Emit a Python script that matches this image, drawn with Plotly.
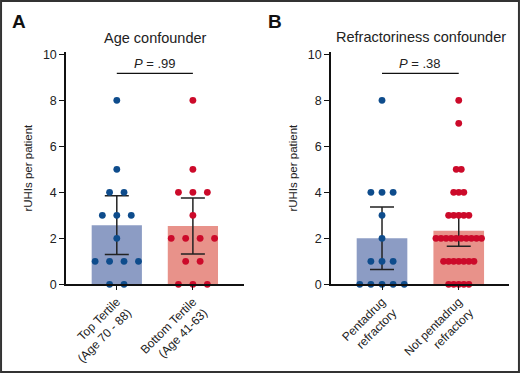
import plotly.graph_objects as go
import numpy as np

# ---- data ----
values_a = [0, 1, 2, 3, 4, 5, 8]
counts_a_top = [2, 4, 1, 3, 2, 1, 1]
counts_a_bottom = [3, 2, 4, 1, 3, 1, 1]
cats_a = ["Top Tertile<br>(Age 70 - 88)", "Bottom Tertile<br>(Age 41-63)"]

values_b = [0, 1, 2, 3, 4, 5, 7, 8]
counts_b_penta = [5, 3, 1, 1, 3, 0, 0, 1]
counts_b_not = [5, 7, 10, 5, 3, 2, 1, 1]
cats_b = ["Pentadrug<br>refractory", "Not pentadrug<br>refractory"]

p_a = "<i>P</i> = .99"
p_b = "<i>P</i> = .38"
titles = ["Age confounder", "Refractoriness confounder"]
t_crit = {13: 2.160, 14: 2.145, 33: 2.035}

BLUE_DOT = "#0e4c8c"
RED_DOT = "#cc0a2a"
BLUE_BAR = "#8c9cc4"
RED_BAR = "#e8928a"
FONT = "Liberation Sans, Arial, sans-serif"


def expand(values, counts):
    out = []
    for v, c in zip(values, counts):
        out += [v] * c
    return np.array(out, dtype=float)


def swarm(values, counts, center, spacing):
    xs, ys = [], []
    for v, c in zip(values, counts):
        for i in range(c):
            xs.append(center + (i - (c - 1) / 2) * spacing)
            ys.append(v)
    return xs, ys


fig = go.Figure()

panels = [
    (values_a, [counts_a_top, counts_a_bottom], cats_a, [0.19, 0.19], "x", "y"),
    (values_b, [counts_b_penta, counts_b_not], cats_b, [0.145, 0.066], "x2", "y2"),
]

for values, counts_list, cats, spacings, xa, ya in panels:
    means, errs = [], []
    for cnts in counts_list:
        d = expand(values, cnts)
        n = len(d)
        m = d.mean()
        sem = d.std(ddof=1) / np.sqrt(n)
        means.append(m)
        errs.append(t_crit.get(n - 1, 2.0) * sem)
    fig.add_trace(go.Bar(
        x=[0, 1], y=means, width=0.66,
        marker=dict(color=[BLUE_BAR, RED_BAR], line=dict(width=0)),
        xaxis=xa, yaxis=ya, showlegend=False,
    ))
    fig.add_trace(go.Scatter(
        x=[0, 1], y=means, mode="markers",
        marker=dict(size=1, color="rgba(0,0,0,0)"),
        error_y=dict(type="data", array=errs, visible=True, color="#222222",
                     thickness=1.5, width=12),
        xaxis=xa, yaxis=ya, showlegend=False,
    ))
    for k, (cnts, col) in enumerate(zip(counts_list, [BLUE_DOT, RED_DOT])):
        xs, ys = swarm(values, cnts, k, spacings[k])
        fig.add_trace(go.Scatter(
            x=xs, y=ys, mode="markers",
            marker=dict(size=6.8, color=col, line=dict(width=0)),
            xaxis=xa, yaxis=ya, showlegend=False, cliponaxis=False,
        ))

line_common = dict(showgrid=False, zeroline=False, showline=True, automargin=False,
                   linecolor="#111111", linewidth=1.5, ticks="outside",
                   tickcolor="#111111", tickwidth=1.2)
ytickfont = dict(family=FONT, size=12.5, color="#222222")
xtickfont = dict(family=FONT, size=12, color="#222222")

fig.update_layout(
    template="none",
    width=520, height=373, autosize=False,
    margin=dict(l=0, r=0, t=0, b=0, pad=0, autoexpand=False),
    paper_bgcolor="white", plot_bgcolor="white",
    font=dict(family=FONT, color="#222222"),
    xaxis=dict(domain=[0.127, 0.469], range=[-0.667, 1.67], tickmode="array",
               tickvals=[0, 1], ticktext=cats_a, tickangle=-45, ticklen=4,
               tickfont=xtickfont, anchor="y", **line_common),
    yaxis=dict(domain=[0.2378, 0.8606], range=[0, 10.1], tickmode="array",
               tickvals=[0, 2, 4, 6, 8, 10], ticklen=5, anchor="x", tickfont=ytickfont,
               title=dict(text="rUHIs per patient", font=dict(family=FONT, size=11.5), standoff=8),
               **line_common),
    xaxis2=dict(domain=[0.6365, 0.979], range=[-0.665, 1.656], tickmode="array",
                tickvals=[0, 1], ticktext=cats_b, tickangle=-45, ticklen=4,
                tickfont=xtickfont, anchor="y2", **line_common),
    yaxis2=dict(domain=[0.2378, 0.8606], range=[0, 10.1], tickmode="array",
                tickvals=[0, 2, 4, 6, 8, 10], ticklen=5, anchor="x2", tickfont=ytickfont,
                title=dict(text="rUHIs per patient", font=dict(family=FONT, size=11.5), standoff=8),
                **line_common),
)

# significance lines and P values
for xa, ya, ptxt in [("x", "y", p_a), ("x2", "y2", p_b)]:
    fig.add_shape(type="line", xref=xa, yref=ya, x0=0, x1=1, y0=9.17, y1=9.17,
                  line=dict(color="#111111", width=1.3))
    fig.add_annotation(xref=xa, yref=ya, x=0.5, y=9.2, text=ptxt, showarrow=False,
                       xanchor="center", yanchor="bottom",
                       font=dict(family=FONT, size=13, color="#222222"))

# panel titles
fig.add_annotation(xref="paper", yref="paper", x=155 / 520, y=1 - 38 / 373, text=titles[0],
                   showarrow=False, xanchor="center", yanchor="middle",
                   font=dict(family=FONT, size=14.5, color="#222222"))
fig.add_annotation(xref="paper", yref="paper", x=421 / 520, y=1 - 37 / 373, text=titles[1],
                   showarrow=False, xanchor="center", yanchor="middle",
                   font=dict(family=FONT, size=14.5, color="#222222"))

# panel letters
fig.add_annotation(xref="paper", yref="paper", x=10 / 520, y=1 - 21 / 373, text="<b>A</b>",
                   showarrow=False, xanchor="left", yanchor="middle",
                   font=dict(family=FONT, size=19, color="#111111"))
fig.add_annotation(xref="paper", yref="paper", x=266 / 520, y=1 - 21 / 373, text="<b>B</b>",
                   showarrow=False, xanchor="left", yanchor="middle",
                   font=dict(family=FONT, size=19, color="#111111"))

# frame
fig.add_shape(type="rect", xref="paper", yref="paper", x0=0.002, x1=0.998, y0=0.003, y1=0.997,
              line=dict(color="#333333", width=2))

fig.write_html("out.html", config={"displayModeBar": False},
               post_script="document.body.style.margin='0';")
